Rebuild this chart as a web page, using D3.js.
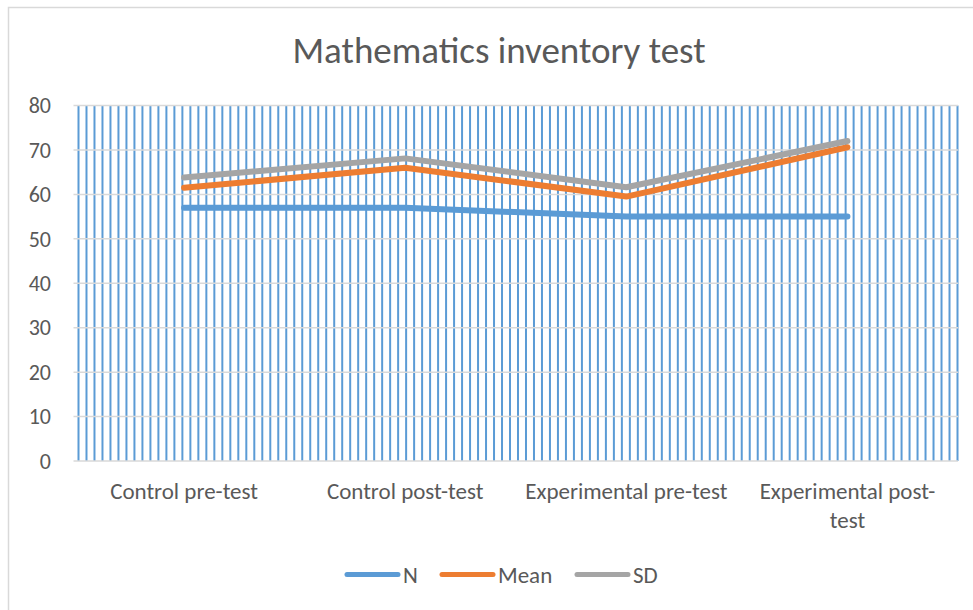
<!DOCTYPE html>
<html>
<head>
<meta charset="utf-8">
<script src="https://cdn.jsdelivr.net/npm/d3@7"></script>
<style>
  html, body { margin: 0; padding: 0; background: #fff; }
  svg { display: block; }
</style>
</head>
<body>
<svg id="chart" width="973" height="610"></svg>
<script>
// data
const categories = ['Control pre-test', 'Control post-test',
  'Experimental pre-test', 'Experimental post-test'];
const seriesNames = ['N', 'Mean', 'SD'];
const nValues = [57, 57, 55, 55];
const meanValues = [61.5, 66, 59.5, 70.6];
const sdValues = [63.8, 68.1, 61.6, 72];
const yTicks = [0, 10, 20, 30, 40, 50, 60, 70, 80];
// number of vertical (blue) grid lines spanning the plot
const verticalLineCount = 111;

const colors = {N: '#5B9BD5', Mean: '#ED7D31', SD: '#A5A5A5'};
const textColor = '#595959';
const gridColor = '#D9D9D9';
const font = 'Carlito, Calibri, Lato, sans-serif';

const width = 973;
const height = 610;
const plot = {left: 73.5, right: 958, top: 105.5, bottom: 461};

const svg = d3.select('#chart');

// chart area border
svg.append('rect')
    .attr('x', 8.5).attr('y', 7.5)
    .attr('width', width + 20).attr('height', height + 20)
    .attr('fill', '#fff')
    .attr('stroke', gridColor)
    .attr('stroke-width', 1.5);

const x = d3.scaleBand()
    .domain(categories)
    .range([plot.left, plot.right])
    .padding(0);

const y = d3.scaleLinear()
    .domain([0, 80])
    .range([plot.bottom, plot.top]);

const xLines = d3.scaleLinear()
    .domain([0, verticalLineCount - 1])
    .range([plot.left + 5, plot.right - 0.5]);

// blue vertical lines
svg.append('g')
    .selectAll('line')
    .data(d3.range(verticalLineCount))
    .join('line')
    .attr('x1', (d) => xLines(d))
    .attr('x2', (d) => xLines(d))
    .attr('y1', y(80))
    .attr('y2', y(0))
    .attr('stroke', colors.N)
    .attr('stroke-width', 2);

// horizontal gridlines
svg.append('g')
    .selectAll('line')
    .data(yTicks)
    .join('line')
    .attr('x1', plot.left)
    .attr('x2', plot.right)
    .attr('y1', (d) => y(d))
    .attr('y2', (d) => y(d))
    .attr('stroke', gridColor)
    .attr('stroke-width', 1.5);

// y tick labels
svg.append('g')
    .attr('font-family', font)
    .attr('font-size', 22)
    .attr('fill', textColor)
    .attr('text-anchor', 'end')
    .selectAll('text')
    .data(yTicks)
    .join('text')
    .attr('x', 51)
    .attr('y', (d) => y(d))
    .attr('dy', '0.35em')
    .text((d) => d);

const wrap = function(text, maxWidth) {
  text.each(function() {
    const textElem = d3.select(this);
    const words = textElem.text().split(/\s+/).reverse();
    const xPos = textElem.attr('x');
    let word;
    let line = [];
    let tspan = textElem.text(null).append('tspan').attr('x', xPos);
    while (word = words.pop()) {
      line.push(word);
      tspan.text(line.join(' '));
      if (tspan.node().getComputedTextLength() > maxWidth) {
        // break after a hyphen like Excel does
        line.pop();
        const parts = word.split('-');
        if (parts.length > 1) {
          line.push(parts[0] + '-');
          tspan.text(line.join(' '));
          line = [parts.slice(1).join('-')];
        } else {
          tspan.text(line.join(' '));
          line = [word];
        }
        tspan = textElem.append('tspan')
            .attr('x', xPos)
            .attr('dy', '1.25em')
            .text(line.join(' '));
      }
    }
  });
};

// category labels
svg.append('g')
    .attr('font-family', font)
    .attr('font-size', 23)
    .attr('fill', textColor)
    .attr('text-anchor', 'middle')
    .selectAll('text')
    .data(categories)
    .join('text')
    .attr('x', (d) => x(d) + x.bandwidth() / 2)
    .attr('y', 499)
    .text((d) => d)
    .call(wrap, 205);

// series lines
const series = [
  {name: 'N', values: nValues},
  {name: 'Mean', values: meanValues},
  {name: 'SD', values: sdValues},
];

const line = d3.line()
    .x((d, i) => x(categories[i]) + x.bandwidth() / 2)
    .y((d) => y(d));

svg.append('g')
    .selectAll('path')
    .data(series)
    .join('path')
    .attr('d', (d) => line(d.values))
    .attr('fill', 'none')
    .attr('stroke', (d) => colors[d.name])
    .attr('stroke-width', 6)
    .attr('stroke-linecap', 'round')
    .attr('stroke-linejoin', 'round');

// title
svg.append('text')
    .attr('x', 499)
    .attr('y', 63)
    .attr('text-anchor', 'middle')
    .attr('font-family', font)
    .attr('font-size', 37)
    .attr('fill', textColor)
    .text('Mathematics inventory test');

// legend
const legendX = [345, 440, 575];
const legend = svg.append('g')
    .attr('font-family', font)
    .attr('font-size', 23)
    .attr('fill', textColor)
    .selectAll('g')
    .data(seriesNames)
    .join('g')
    .attr('transform', (d, i) => `translate(${legendX[i]},574.5)`);

legend.append('line')
    .attr('x1', 2).attr('x2', 53)
    .attr('stroke', (d) => colors[d])
    .attr('stroke-width', 5)
    .attr('stroke-linecap', 'round');

legend.append('text')
    .attr('x', 58)
    .attr('dy', '0.35em')
    .text((d) => d);
</script>
</body>
</html>
